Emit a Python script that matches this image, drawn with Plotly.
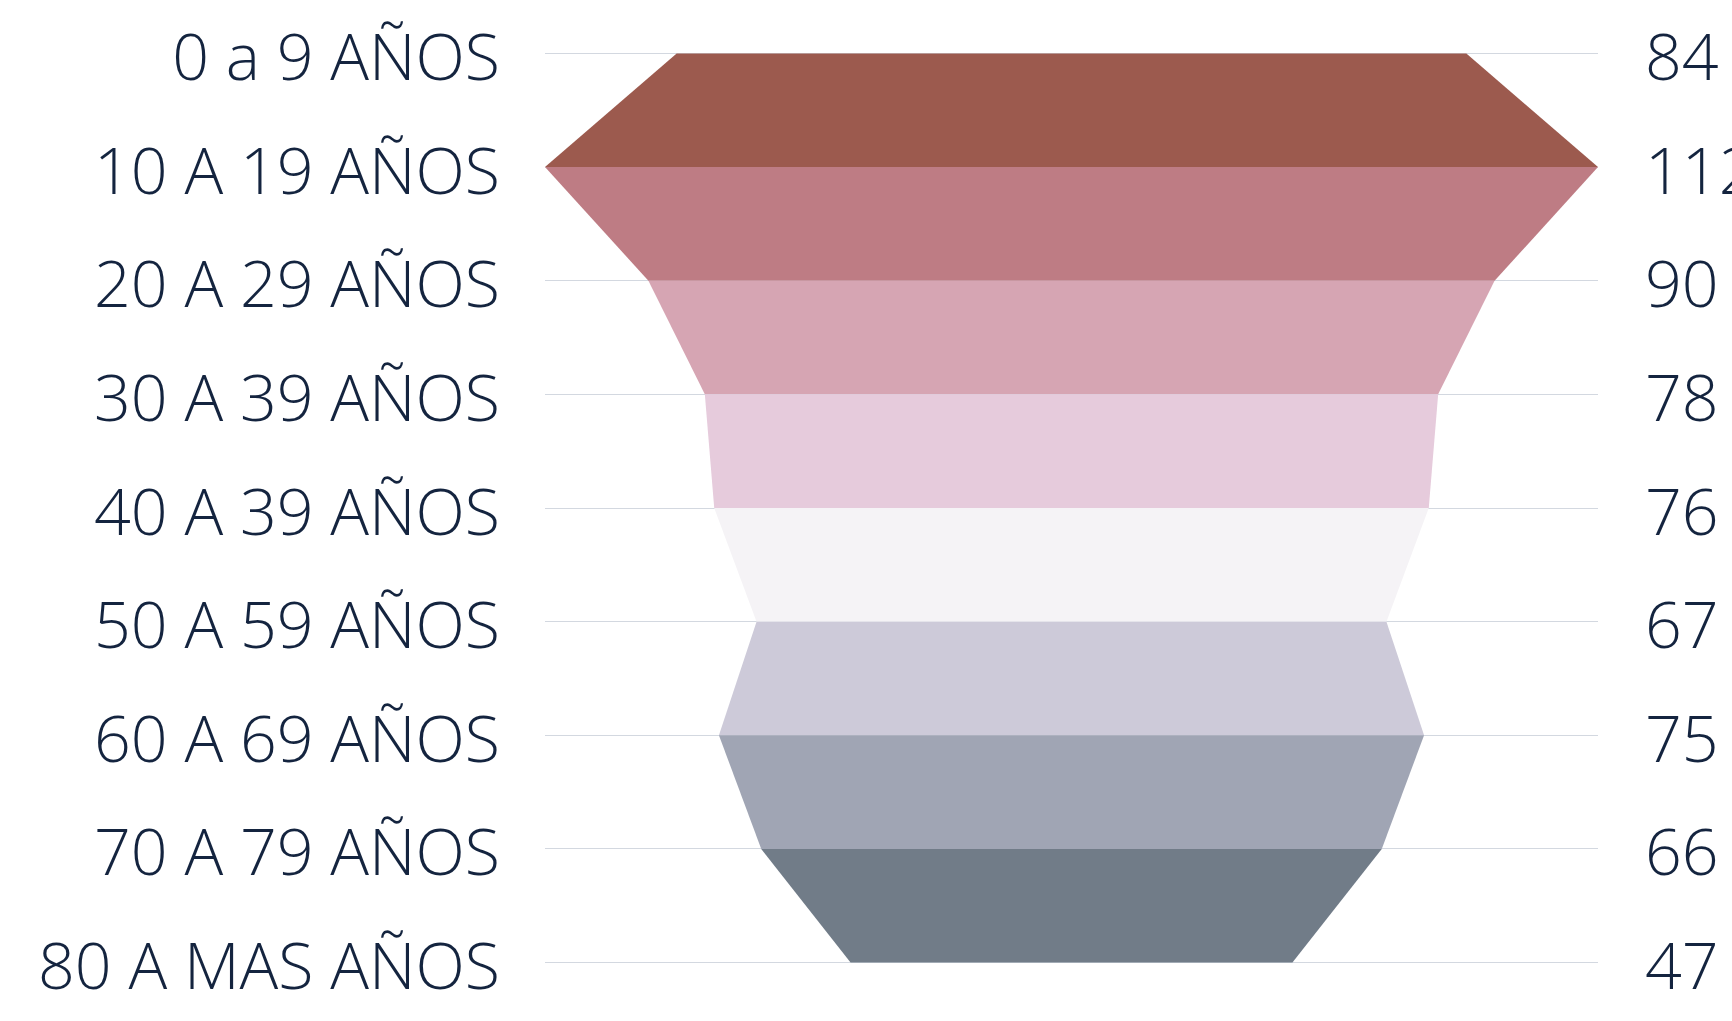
import plotly.graph_objects as go

# Age groups (top to bottom) and their counts
age_groups = [
    "0 a 9 AÑOS", "10 A 19 AÑOS", "20 A 29 AÑOS", "30 A 39 AÑOS",
    "40 A 39 AÑOS", "50 A 59 AÑOS", "60 A 69 AÑOS", "70 A 79 AÑOS",
    "80 A MAS AÑOS",
]
counts = [84, 112, 90, 78, 76, 67, 75, 66, 47]

# Fill colour of each band between two consecutive age groups
band_colors = [
    "#9c5a4e", "#be7c84", "#d6a5b3", "#e6cbdc",
    "#f5f3f6", "#cdcad9", "#a0a5b4", "#717c88",
]

TEXT = "#14243f"
FONT = dict(family="Open Sans", size=64.5, color=TEXT, weight=300)

fig = go.Figure()

# Each band is a trapezoid whose half-width follows the counts of its two edges
for i, color in enumerate(band_colors):
    a, b = counts[i], counts[i + 1]
    fig.add_trace(go.Scatter(
        x=[-a, a, b, -b, -a],
        y=[i, i, i + 1, i + 1, i],
        mode="lines",
        line=dict(width=0, color=color),
        fill="toself",
        fillcolor=color,
        hoverinfo="skip",
        showlegend=False,
    ))

# Invisible trace that binds the right-hand axis holding the counts
fig.add_trace(go.Scatter(
    x=[0] * len(counts), y=list(range(len(counts))),
    yaxis="y2", mode="markers", marker=dict(opacity=0),
    hoverinfo="skip", showlegend=False,
))

pad = 0.4
y_range = [len(age_groups) - 1 + pad, -pad]
vmax = max(counts)

fig.update_layout(
    width=1732, height=1021,
    margin=dict(l=545, r=134, t=8, b=13),
    paper_bgcolor="white", plot_bgcolor="white",
    xaxis=dict(range=[-vmax, vmax], showgrid=False, zeroline=False,
               showticklabels=False, fixedrange=True, automargin=False),
    yaxis=dict(range=y_range, tickmode="array",
               tickvals=list(range(len(age_groups))), ticktext=age_groups,
               showgrid=True, gridcolor="#d3d8e0", gridwidth=1.2,
               zeroline=False, ticks="", tickfont=FONT,
               ticklabelstandoff=44, ticklabelshift=-4, automargin=False),
    yaxis2=dict(range=y_range, overlaying="y", side="right", tickmode="array",
                tickvals=list(range(len(counts))),
                ticktext=[str(c) for c in counts],
                showgrid=False, zeroline=False, ticks="", tickfont=FONT,
                ticklabelstandoff=46, ticklabelshift=-4, automargin=False),
)

fig.write_html("out.html")
